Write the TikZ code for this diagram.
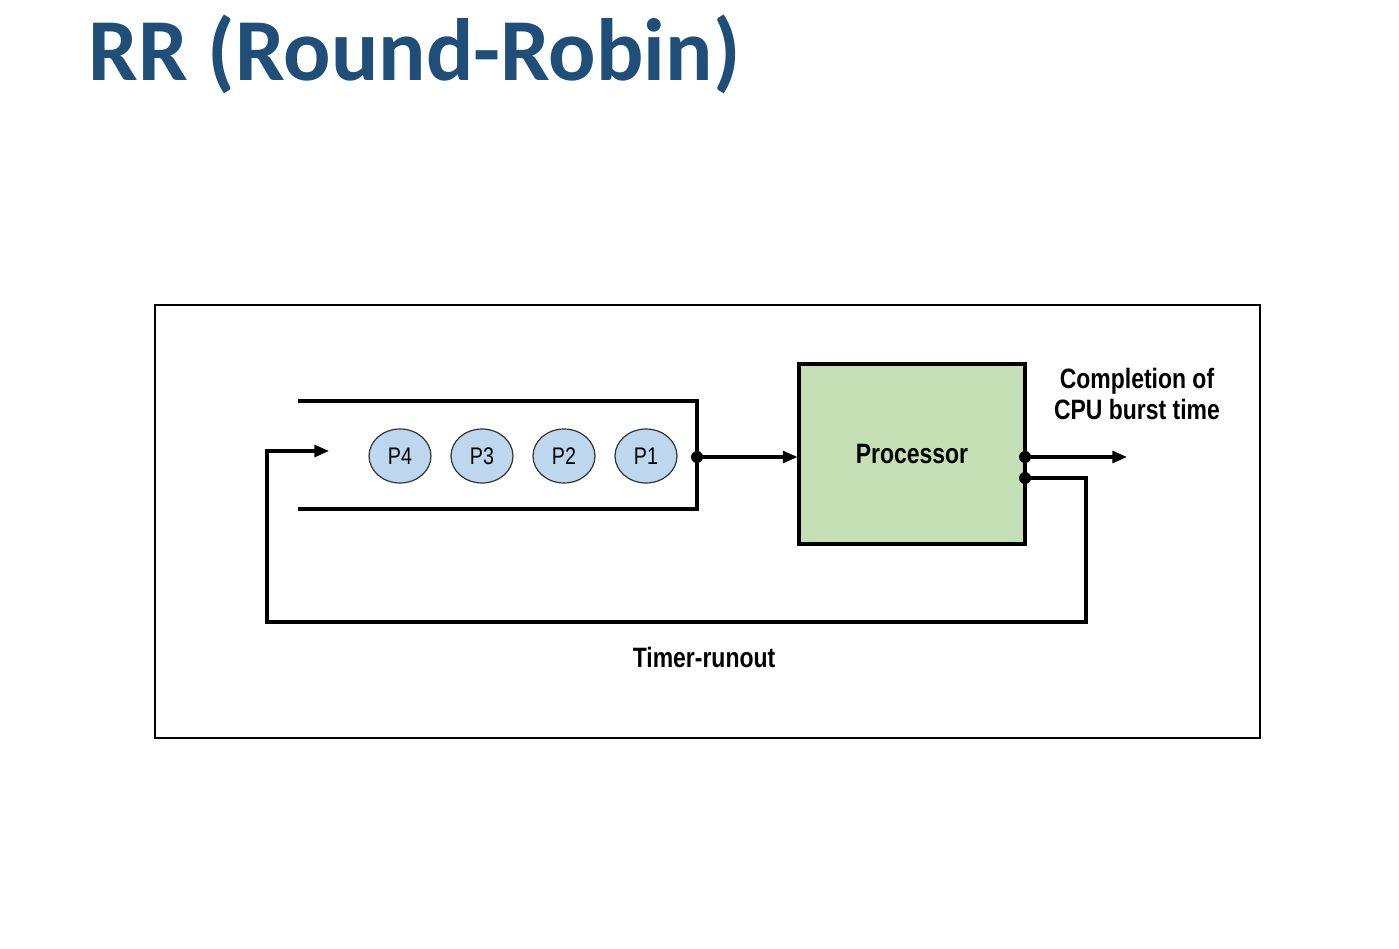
\documentclass[tikz,border=0pt]{standalone}
\usepackage{fontspec}
\setmainfont{Liberation Sans}
\newfontfamily\narrowfont{Liberation Sans}[FakeStretch=0.82]
\newfontfamily\titlefont{Carlito}
\usetikzlibrary{arrows.meta,shapes.geometric}
\definecolor{titleblue}{RGB}{31,78,121}
\definecolor{procfill}{RGB}{197,224,180}
\definecolor{pfill}{RGB}{189,215,238}
\begin{document}
\begin{tikzpicture}[x=0.75pt,y=-0.75pt,
  conn/.style={line width=2.3pt},
  arr/.style={line width=2.3pt,-{Triangle[length=11pt,width=9pt]}},
  proc/.style={ellipse,draw=black!80,line width=0.9pt,fill=pfill,minimum width=46.5pt,minimum height=40.5pt,inner sep=0pt,font=\narrowfont\fontsize{18}{20}\selectfont},
  lbl/.style={font=\narrowfont\bfseries\fontsize{21}{24}\selectfont,align=center,inner sep=0pt},
  dot/.style={circle,fill=black,inner sep=0pt,minimum size=9pt}]
\useasboundingbox (0,0) rectangle (1399,949);
\fill[white] (0,0) rectangle (1399,949);
% title
\node[anchor=base west,inner sep=0pt,text=titleblue,font=\titlefont\bfseries\fontsize{66.3}{70}\selectfont] (title) at (88,80) {RR (Round-Robin)};
% frame
\node[draw,line width=1.1pt,minimum width=828.75pt,minimum height=324.75pt,inner sep=0pt] (frame) at (707.5,521.5) {};
% queue
\draw[conn] (298,401) -- (697,401) -- (697,509) -- (298,509);
\node[proc] (p4) at (400,456) {P4};
\node[proc] (p3) at (482,456) {P3};
\node[proc] (p2) at (564,456) {P2};
\node[proc] (p1) at (646,456) {P1};
% processor
\node[draw,line width=2.3pt,fill=procfill,minimum width=169.5pt,minimum height=135pt,inner sep=0pt,font=\narrowfont\bfseries\fontsize{21}{24}\selectfont] (cpu) at (912,454) {\raisebox{-1.5pt}{Processor}};
\node[dot] (qout) at (697,457) {};
\node[dot] (cout) at (1025,457) {};
\node[dot] (tout) at (1025,478) {};
\coordinate (done) at (1127,457);
\coordinate (qin) at (329,451);
\draw[arr] (qout.center) -- (qout.center -| cpu.west);
\draw[arr] (cout.center) -- (done);
\draw[conn,line join=miter] (tout.center) -- (1086,478) -- (1086,622) -- (267,622) -- (267,451) -- (300,451);
\draw[arr] (300,451) -- (qin);
% labels
\node[lbl] (complete) at (1137,394) {Completion of\\[-1pt]CPU burst time};
\node[lbl] (timer) at (704,657) {Timer-runout};
\end{tikzpicture}
\end{document}
